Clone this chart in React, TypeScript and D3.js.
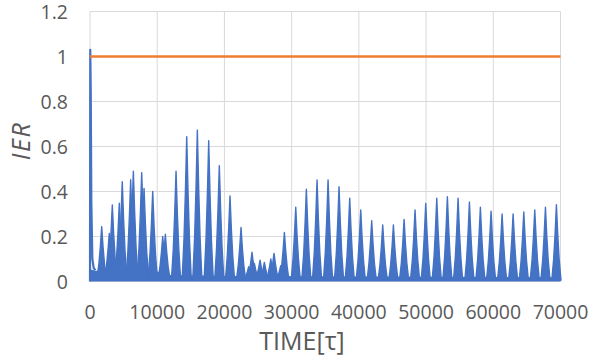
import React from "react";
import * as d3 from "d3";

// ---- data ----
const xTicks = [0, 10000, 20000, 30000, 40000, 50000, 60000, 70000];
const yTicks = [0, 0.2, 0.4, 0.6, 0.8, 1, 1.2];
const yTickLabels = ["0", "0.2", "0.4", "0.6", "0.8", "1", "1.2"];

// initial transient of IER
const startTime = [0, 40, 110, 200, 350, 550, 800];
const startIER = [0, 1.03, 0.85, 0.35, 0.1, 0.06, 0.05];

// oscillation peaks of IER
const peakTime = [
  1740, 2870, 3320, 4360, 4800, 6050, 6450, 7690, 8040, 9330, 10820, 11210,
  12800, 14390, 15970, 17660, 19240, 20830, 22470, 23610, 24100, 24450, 25300,
  25940, 26900, 27380, 28380, 28920, 30610, 32190, 33780, 35420, 37050, 38640,
  40280, 41910, 43550, 45140, 46730, 48360, 49950, 51590, 53170, 54760, 56450,
  58080, 59670, 61310, 62950, 64540, 66170, 67760, 69390,
];
const peakIER = [
  0.244, 0.214, 0.34, 0.348, 0.444, 0.452, 0.49, 0.484, 0.414, 0.4, 0.2, 0.21,
  0.49, 0.644, 0.673, 0.626, 0.515, 0.38, 0.24, 0.066, 0.13, 0.08, 0.095,
  0.085, 0.1, 0.125, 0.07, 0.218, 0.33, 0.41, 0.451, 0.451, 0.421, 0.37,
  0.318, 0.27, 0.251, 0.251, 0.276, 0.318, 0.347, 0.37, 0.377, 0.37, 0.353,
  0.33, 0.312, 0.3, 0.3, 0.309, 0.318, 0.33, 0.341,
];

// floor level of the oscillation
const floorTime = [0, 600, 10000, 12000, 22000, 70000];
const floorIER = [0.05, 0.045, 0.04, 0.025, 0.02, 0.015];

// reference level
const refIER = 1;

const W = 594;
const H = 361;
const left = 90;
const right = 560.5;
const top = 11.5;
const bottom = 281.5;

const BLUE = "#4472C4";
const ORANGE = "#ED7D31";
const GRID = "#D9D9D9";
const TXT = "#595959";
const FONT = "'Open Sans', 'Liberation Sans', sans-serif";

export default function App() {
  const x = d3.scaleLinear().domain([0, 70000]).range([left, right]);
  const y = d3.scaleLinear().domain([0, 1.2]).range([bottom, top]);

  const hw = 680; // half width of a spike in time units (shape)
  const spikeShape = [
    [-1, 0],
    [-0.6, 0.28],
    [-0.3, 0.6],
    [0, 1],
    [0.3, 0.6],
    [0.6, 0.28],
    [1, 0],
  ];

  const floorAt = (t: number) => {
    for (let i = 0; i < floorTime.length - 1; i++) {
      if (t >= floorTime[i] && t <= floorTime[i + 1]) {
        const f = (t - floorTime[i]) / (floorTime[i + 1] - floorTime[i]);
        return floorIER[i] + f * (floorIER[i + 1] - floorIER[i]);
      }
    }
    return floorIER[floorIER.length - 1];
  };

  const line = d3
    .line<[number, number]>()
    .x((d) => x(d[0]))
    .y((d) => y(d[1]));

  const floorArea = d3
    .area<[number, number]>()
    .x((d) => x(d[0]))
    .y0(y(0))
    .y1((d) => y(d[1]));

  const spikes = peakTime.map((t, i) => {
    const v = peakIER[i];
    const fl = floorAt(t) * 0.4;
    const pts = spikeShape.map(
      ([dx, fh]) => [t + dx * hw, fl + fh * (v - fl)] as [number, number]
    );
    return line(pts) + "Z";
  });

  const floorPts = floorTime.map((t, i) => [t, floorIER[i]] as [number, number]);
  const startPts = startTime.map((t, i) => [t, startIER[i]] as [number, number]);

  return (
    <svg
      width={W}
      height={H}
      style={{ position: "absolute", left: 0, top: 0, background: "#fff" }}
    >
      {/* grid */}
      {yTicks.map((v) => (
        <line
          key={"gy" + v}
          x1={left}
          x2={right}
          y1={y(v)}
          y2={y(v)}
          stroke={GRID}
          strokeWidth={1}
        />
      ))}
      {xTicks.map((v) => (
        <line
          key={"gx" + v}
          x1={x(v)}
          x2={x(v)}
          y1={top}
          y2={bottom}
          stroke={GRID}
          strokeWidth={1}
        />
      ))}

      {/* IER series */}
      <path d={floorArea(floorPts) || ""} fill={BLUE} />
      <path
        d={line(floorPts) || ""}
        fill="none"
        stroke={BLUE}
        strokeWidth={2}
      />
      {spikes.map((d, i) => (
        <path
          key={"s" + i}
          d={d}
          fill={BLUE}
          stroke={BLUE}
          strokeWidth={1.4}
          strokeLinejoin="round"
        />
      ))}
      <path
        d={line(startPts) || ""}
        fill="none"
        stroke={BLUE}
        strokeWidth={2.2}
        strokeLinejoin="round"
      />

      {/* reference line */}
      <line
        x1={x(0)}
        x2={x(70000)}
        y1={y(refIER)}
        y2={y(refIER)}
        stroke={ORANGE}
        strokeWidth={2.5}
      />

      {/* y tick labels */}
      {yTicks.map((v, i) => (
        <text
          key={"yl" + v}
          x={68}
          y={y(v) + 1}
          dy="0.35em"
          textAnchor="end"
          fontFamily={FONT}
          fontSize={19.5}
          fill={TXT}
        >
          {yTickLabels[i]}
        </text>
      ))}
      {/* x tick labels */}
      {xTicks.map((v) => (
        <text
          key={"xl" + v}
          x={x(v)}
          y={318.5}
          textAnchor="middle"
          fontFamily={FONT}
          fontSize={19.5}
          fill={TXT}
        >
          {String(v)}
        </text>
      ))}

      {/* axis titles */}
      <text
        x={302}
        y={350}
        textAnchor="middle"
        fontFamily={FONT}
        fontSize={25}
        fill={TXT}
      >
        TIME[τ]
      </text>
      <text
        transform="translate(30,141) rotate(-90)"
        textAnchor="middle"
        fontFamily={FONT}
        fontSize={25}
        fontStyle="italic"
        letterSpacing={1.5}
        fill={TXT}
      >
        IER
      </text>
    </svg>
  );
}
